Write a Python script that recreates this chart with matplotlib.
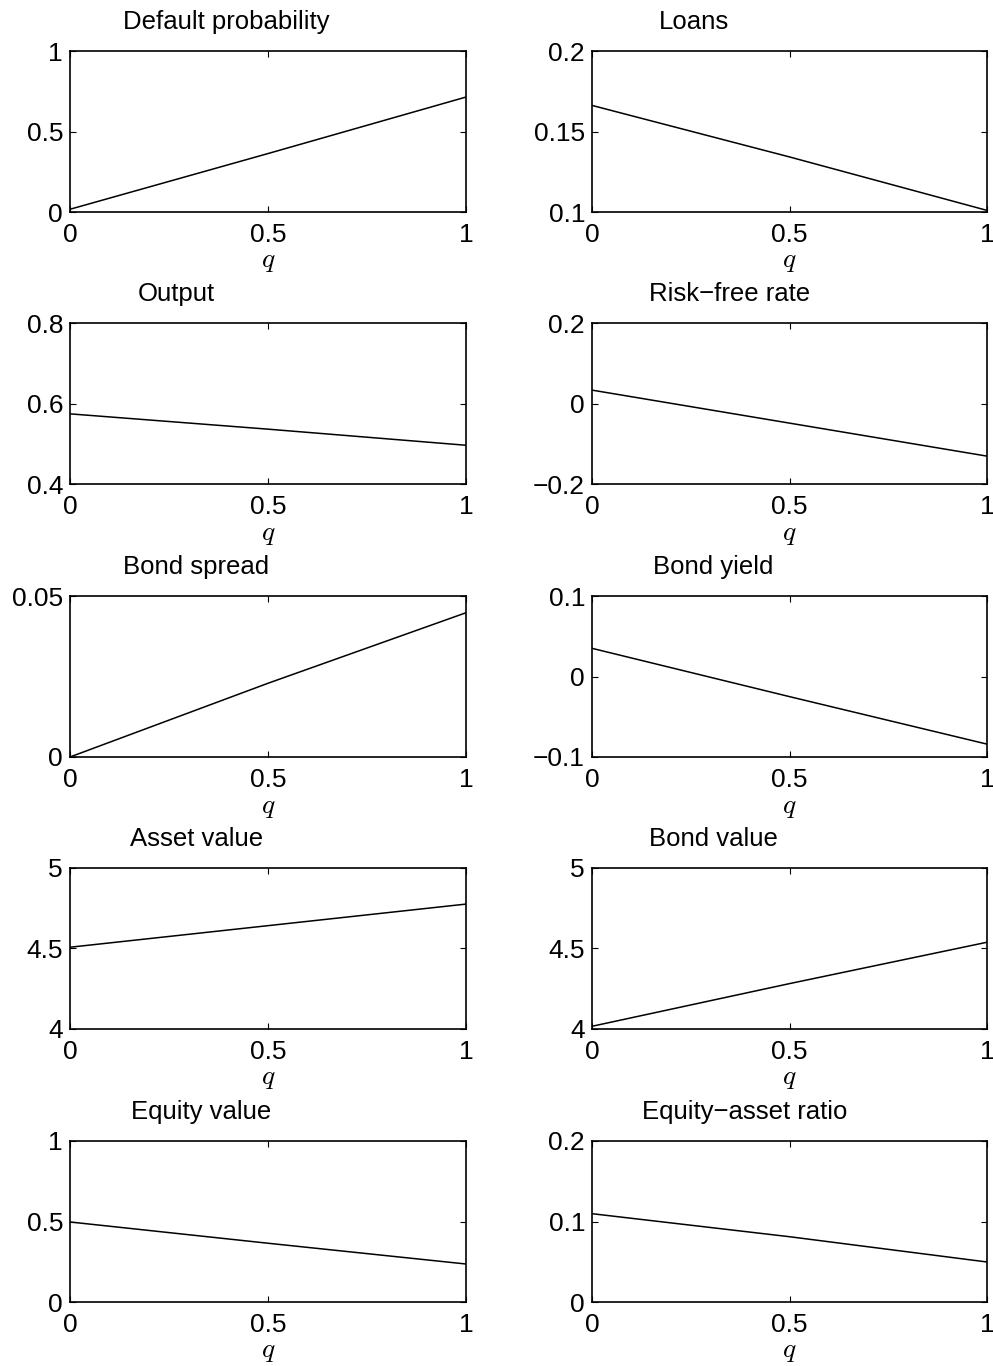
import matplotlib
matplotlib.use("Agg")
import matplotlib.pyplot as plt
import numpy as np

plt.rcParams['font.family'] = ['Liberation Sans', 'DejaVu Sans']
plt.rcParams['mathtext.fontset'] = 'cm'

q = [0.0, 0.5, 1.0]

default_prob = [0.017, 0.363, 0.714]
loans = [0.1662, 0.1342, 0.101]
output = [0.575, 0.537, 0.497]
risk_free = [0.034, -0.048, -0.130]
bond_spread = [0.0, 0.0229, 0.0448]
bond_yield = [0.035, -0.025, -0.084]
asset_value = [4.506, 4.640, 4.774]
bond_value = [4.015, 4.280, 4.537]
equity_value = [0.497, 0.365, 0.236]
equity_asset = [0.1097, 0.0811, 0.0497]

titles = ["Default probability", "Loans", "Output", "Risk\u2212free rate",
          "Bond spread", "Bond yield", "Asset value", "Bond value",
          "Equity value", "Equity\u2212asset ratio"]
series = [default_prob, loans, output, risk_free, bond_spread, bond_yield,
          asset_value, bond_value, equity_value, equity_asset]
ylims = [(0, 1), (0.1, 0.2), (0.4, 0.8), (-0.2, 0.2), (0, 0.05),
         (-0.1, 0.1), (4, 5), (4, 5), (0, 1), (0, 0.2)]
yticks = [[0, 0.5, 1], [0.1, 0.15, 0.2], [0.4, 0.6, 0.8], [-0.2, 0, 0.2],
          [0, 0.05], [-0.1, 0, 0.1], [4, 4.5, 5], [4, 4.5, 5], [0, 0.5, 1],
          [0, 0.1, 0.2]]
# title centres in axes fraction (as placed in the original figure)
title_x = [0.395, 0.258, 0.269, 0.347, 0.318, 0.308, 0.319, 0.308, 0.331, 0.386]

W, H = 993, 1366
fig = plt.figure(figsize=(W / 100, H / 100), dpi=100)

col_left = [70, 592]
col_width = [396, 395]
row_top = [51, 323.3, 596, 867.7, 1141]
ax_h = 161


def fmt(v):
    s = ('%g' % v)
    return s.replace('-', '\u2212')


for i in range(10):
    r, c = divmod(i, 2)
    ax = fig.add_axes([col_left[c] / W, 1 - (row_top[r] + ax_h) / H,
                       col_width[c] / W, ax_h / H])
    ax.plot(q, series[i], color='black', lw=1.1)
    ax.set_xlim(0, 1)
    ax.set_ylim(*ylims[i])
    ax.set_xticks([0, 0.5, 1])
    ax.set_xticklabels([fmt(v) for v in [0, 0.5, 1]])
    ax.set_yticks(yticks[i])
    ax.set_yticklabels([fmt(v) for v in yticks[i]])
    ax.tick_params(direction='in', length=4, width=0.8, top=True, right=True,
                   labelsize=19)
    ax.tick_params(axis='x', pad=8)
    ax.tick_params(axis='y', pad=5)
    for sp in ax.spines.values():
        sp.set_linewidth(1.2)
    ax.set_xlabel('$q$', fontsize=20, labelpad=1)
    ax.text(title_x[i], 1 + 22 / ax_h, titles[i], transform=ax.transAxes,
            ha='center', va='baseline', fontsize=18.5)

fig.savefig('out.png', dpi=100)
